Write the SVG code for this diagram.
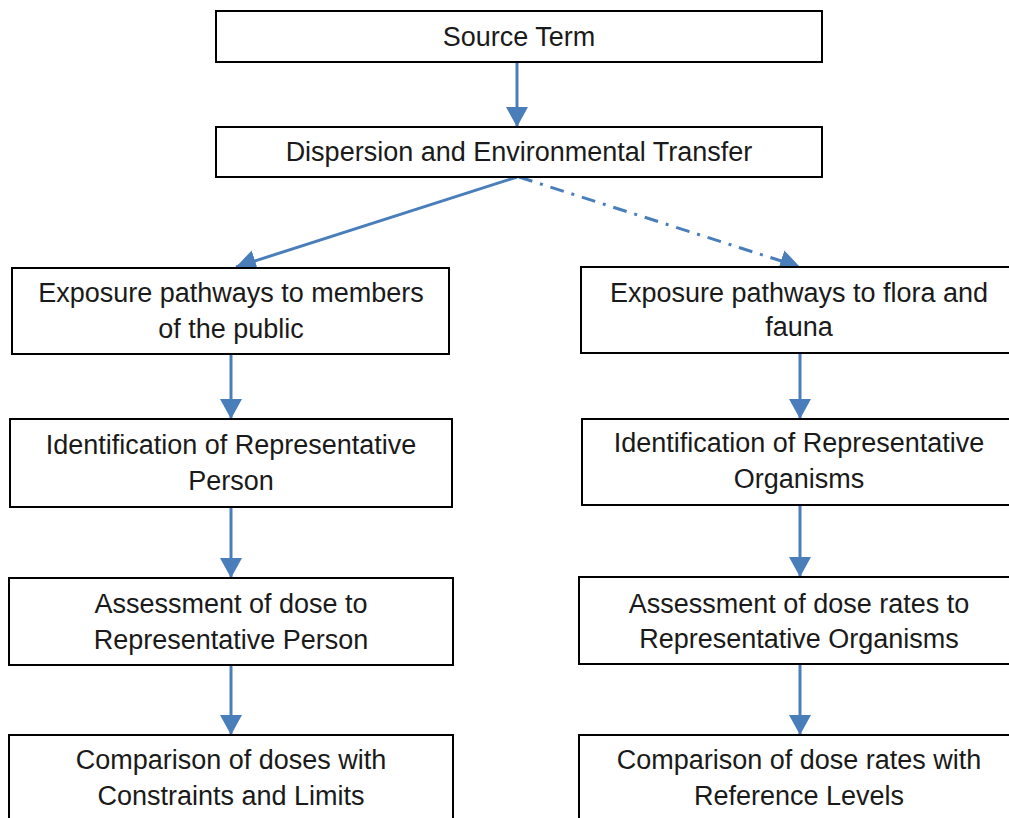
<svg xmlns="http://www.w3.org/2000/svg" width="1009" height="818" viewBox="0 0 1009 818">
<defs>
<style>
.box{fill:#fff;stroke:#000;stroke-width:2}
.t{font-family:"Liberation Sans",Arial,sans-serif;font-size:27px;fill:#1a1a1a;text-anchor:middle}
.c{stroke:#4a7ebb;stroke-width:3;fill:none}
.d{stroke-dasharray:14 8 3 8}
</style>
<marker id="a" viewBox="0 0 10 10" refX="10" refY="5" markerWidth="20" markerHeight="22" markerUnits="userSpaceOnUse" orient="auto" preserveAspectRatio="none">
<path d="M0,0 L10,5 L0,10 z" fill="#4a7ebb"/>
</marker>
</defs>
<rect width="1009" height="818" fill="#fff"/>
<g id="connectors">
<line class="c" x1="517" y1="62" x2="517" y2="127" marker-end="url(#a)"/>
<line class="c" x1="517" y1="177" x2="236" y2="267" marker-end="url(#a)"/>
<line class="c d" x1="519" y1="177" x2="800" y2="267" marker-end="url(#a)"/>
<line class="c" x1="231" y1="354" x2="231" y2="419" marker-end="url(#a)"/>
<line class="c" x1="231" y1="507" x2="231" y2="578" marker-end="url(#a)"/>
<line class="c" x1="231" y1="665" x2="231" y2="735" marker-end="url(#a)"/>
<line class="c" x1="800" y1="353" x2="800" y2="419" marker-end="url(#a)"/>
<line class="c" x1="800" y1="505" x2="800" y2="577" marker-end="url(#a)"/>
<line class="c" x1="800" y1="664" x2="800" y2="735" marker-end="url(#a)"/>
</g>
<g id="n1"><rect class="box" x="216" y="11" width="606" height="51"/><text class="t" x="519" y="46">Source Term</text></g>
<g id="n2"><rect class="box" x="216" y="127" width="606" height="50"/><text class="t" x="519" y="161">Dispersion and Environmental Transfer</text></g>
<g id="n3"><rect class="box" x="12" y="268" width="437" height="86"/><text class="t" x="231" y="302">Exposure pathways to members</text><text class="t" x="231" y="338">of the public</text></g>
<g id="n4"><rect class="box" x="581" y="267" width="436" height="86"/><text class="t" x="799" y="302">Exposure pathways to flora and</text><text class="t" x="799" y="336">fauna</text></g>
<g id="n5"><rect class="box" x="10" y="419" width="442" height="88"/><text class="t" x="231" y="454">Identification of Representative</text><text class="t" x="231" y="490">Person</text></g>
<g id="n6"><rect class="box" x="582" y="419" width="435" height="86"/><text class="t" x="799" y="452">Identification of Representative</text><text class="t" x="799" y="488">Organisms</text></g>
<g id="n7"><rect class="box" x="9" y="578" width="444" height="87"/><text class="t" x="231" y="613">Assessment of dose to</text><text class="t" x="231" y="649">Representative Person</text></g>
<g id="n8"><rect class="box" x="579" y="577" width="438" height="87"/><text class="t" x="799" y="613">Assessment of dose rates to</text><text class="t" x="799" y="648">Representative Organisms</text></g>
<g id="n9"><rect class="box" x="9" y="735" width="444" height="100"/><text class="t" x="231" y="769">Comparison of doses with</text><text class="t" x="231" y="805">Constraints and Limits</text></g>
<g id="n10"><rect class="box" x="579" y="735" width="438" height="100"/><text class="t" x="799" y="769">Comparison of dose rates with</text><text class="t" x="799" y="805">Reference Levels</text></g>
</svg>
